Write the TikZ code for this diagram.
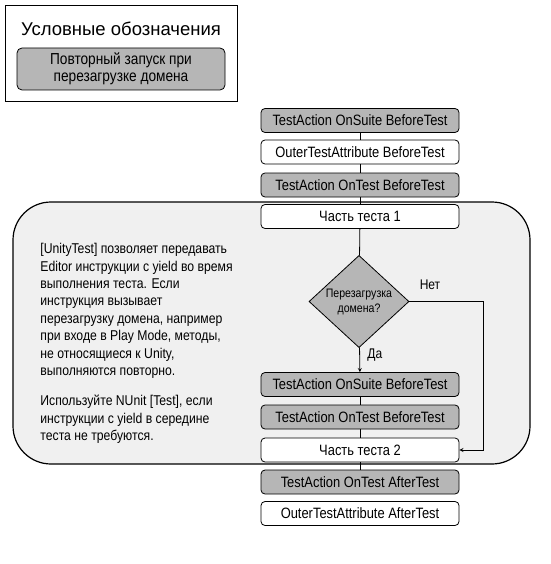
\documentclass[tikz,border=0pt]{standalone}
\usepackage{fontspec}
\setmainfont{Liberation Sans}[FakeStretch=0.86]
\newfontfamily\titlefont{Liberation Sans}
\usetikzlibrary{shapes.geometric}
\definecolor{boxgray}{RGB}{182,182,182}
\definecolor{areagray}{RGB}{240,240,240}
\tikzstyle{arrow} = [->,>=stealth]
\tikzstyle{stepbox} = [draw,rounded corners=4pt,minimum width=198pt,minimum height=24pt,inner sep=0pt,font=\fontsize{15}{17}\selectfont]
\tikzstyle{graystep} = [stepbox,fill=boxgray]
\tikzstyle{whitestep} = [stepbox,fill=white]
\tikzstyle{decision} = [draw,diamond,fill=boxgray,minimum width=100pt,minimum height=87pt,inner sep=0pt,align=center,font=\fontsize{12.3}{15}\selectfont]

\begin{document}
\begin{tikzpicture}[x=1pt,y=-1pt,line width=0.8pt]
        \useasboundingbox (0,0) rectangle (550,564);

        % legend
        \draw[line width=0.9pt] (5,5) rectangle (237,101);
        \node[font=\titlefont\fontsize{18.5}{21}\selectfont] at (121,29) (legendtitle) {Условные обозначения};
        \node[stepbox, fill=boxgray, minimum width=208pt, minimum height=42pt, rounded corners=5pt, align=center, font=\fontsize{15.9}{17.5}\selectfont] at (121,69) (legendbox) {Повторный запуск при\\перезагрузке домена};

        % domain reload area
        \draw[line width=1.2pt, fill=areagray, rounded corners=38pt] (13,202) rectangle (530,464);
        \node[anchor=north west, inner sep=0pt, align=left, font=\fontsize{14.2}{17.4}\selectfont] at (40,243) (note) {[UnityTest] позволяет передавать\\Editor инструкции с yield во время\\выполнения теста. Если\\инструкция вызывает\\перезагрузку домена, например\\при входе в Play Mode, методы,\\не относящиеся к Unity,\\выполняются повторно.\\[13pt]Используйте NUnit [Test], если\\инструкции с yield в середине\\теста не требуются.};

        % steps
        \node[graystep] at (360,120.5) (suite) {TestAction OnSuite BeforeTest};
        \node[whitestep] at (360,152) (outer) {OuterTestAttribute BeforeTest};
        \node[graystep] at (360,185) (ontest) {TestAction OnTest BeforeTest};
        \node[whitestep] at (360,216.5) (part1) {Часть теста 1};
        \node[decision] at (359,301.5) (reload) {Перезагрузка\\домена?};
        \node[graystep] at (360,384.5) (suite2) {TestAction OnSuite BeforeTest};
        \node[graystep] at (360,417) (ontest2) {TestAction OnTest BeforeTest};
        \node[whitestep] at (360,450) (part2) {Часть теста 2};
        \node[graystep] at (360,482) (after) {TestAction OnTest AfterTest};
        \node[whitestep] at (360,513.5) (outerafter) {OuterTestAttribute AfterTest};
        \coordinate (turn) at (483,301.5);

        \draw (suite) -- (outer);
        \draw (outer) -- (ontest);
        \draw (ontest) -- (part1);
        \draw (part1) -- (reload);
        \draw[arrow] (reload) -- (suite2) node[pos=0.3, right, xshift=4pt, font=\fontsize{14}{16}\selectfont]{Да};
        \draw (suite2) -- (ontest2);
        \draw (ontest2) -- (part2);
        \draw (part2) -- (after);
        \draw[arrow] (reload) -- (turn) |- (part2);
        \node[font=\fontsize{14}{16}\selectfont] at (430,285) (no) {Нет};

    \end{tikzpicture}
\end{document}
